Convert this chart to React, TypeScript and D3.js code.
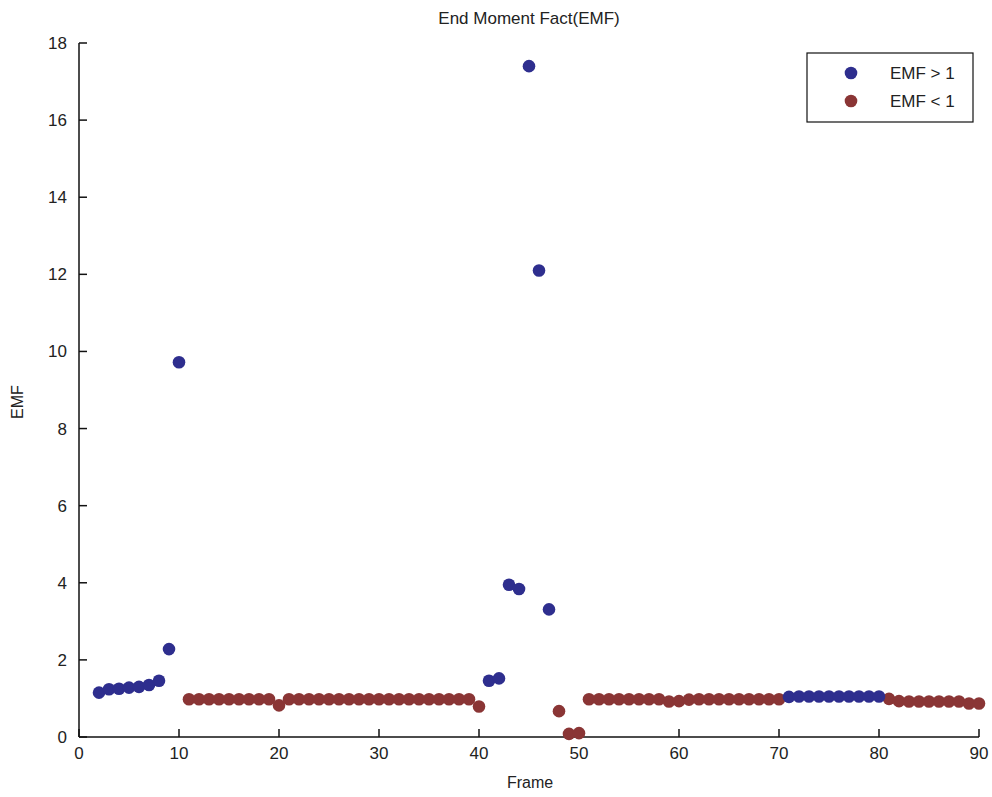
import React from "react";
import * as d3 from "d3";

const framesHigh = [2, 3, 4, 5, 6, 7, 8, 9, 10, 41, 42, 43, 44, 45, 46, 47, 71, 72, 73, 74, 75, 76, 77, 78, 79, 80];
const valuesHigh = [1.15, 1.24, 1.25, 1.28, 1.3, 1.35, 1.46, 2.28, 9.72, 1.46, 1.52, 3.95, 3.84, 17.4, 12.1, 3.31, 1.04, 1.05, 1.05, 1.05, 1.05, 1.05, 1.05, 1.05, 1.05, 1.05];

const framesLow = [11, 12, 13, 14, 15, 16, 17, 18, 19, 20, 21, 22, 23, 24, 25, 26, 27, 28, 29, 30, 31, 32, 33, 34, 35, 36, 37, 38, 39, 40, 48, 49, 50, 51, 52, 53, 54, 55, 56, 57, 58, 59, 60, 61, 62, 63, 64, 65, 66, 67, 68, 69, 70, 81, 82, 83, 84, 85, 86, 87, 88, 89, 90];
const valuesLow = [0.98, 0.98, 0.98, 0.98, 0.98, 0.98, 0.98, 0.98, 0.98, 0.82, 0.98, 0.98, 0.98, 0.98, 0.98, 0.98, 0.98, 0.98, 0.98, 0.98, 0.98, 0.98, 0.98, 0.98, 0.98, 0.98, 0.98, 0.98, 0.98, 0.79, 0.67, 0.08, 0.1, 0.98, 0.98, 0.98, 0.98, 0.98, 0.98, 0.98, 0.98, 0.92, 0.93, 0.97, 0.98, 0.98, 0.98, 0.98, 0.98, 0.98, 0.98, 0.98, 0.98, 0.99, 0.93, 0.92, 0.92, 0.92, 0.92, 0.92, 0.92, 0.87, 0.87];

const xTicks = [0, 10, 20, 30, 40, 50, 60, 70, 80, 90];
const yTicks = [0, 2, 4, 6, 8, 10, 12, 14, 16, 18];
const legendLabels = ["EMF > 1", "EMF < 1"];

const BLUE = "#2e2e8e";
const RED = "#8a3535";
const FONT = "Liberation Sans, Arial, sans-serif";

export default function App() {
  const x = d3.scaleLinear().domain([0, 90]).range([79, 979]);
  const y = d3.scaleLinear().domain([0, 18]).range([737, 43]);
  const r = 6.3;
  const highPts = framesHigh.map((f, i) => [f, valuesHigh[i]]);
  const lowPts = framesLow.map((f, i) => [f, valuesLow[i]]);
  return (
    <svg width={992} height={797} style={{ position: "absolute", left: 0, top: 0, background: "#fff" }}>
      <text x={529} y={24} textAnchor="middle" fontFamily={FONT} fontSize={17} fill="#222">End Moment Fact(EMF)</text>
      <line x1={x(0)} x2={x(90)} y1={y(0)} y2={y(0)} stroke="#111" strokeWidth={1.5} />
      <line x1={x(0)} x2={x(0)} y1={y(0)} y2={y(18)} stroke="#111" strokeWidth={1.5} />
      {xTicks.map((t) => (
        <g key={"x" + t}>
          <line x1={x(t)} x2={x(t)} y1={y(0)} y2={y(0) - 8} stroke="#111" strokeWidth={1.5} />
          <text x={x(t)} y={y(0) + 22} textAnchor="middle" fontFamily={FONT} fontSize={17} fill="#222">{t}</text>
        </g>
      ))}
      {yTicks.map((t) => (
        <g key={"y" + t}>
          <line x1={x(0)} x2={x(0) + 8} y1={y(t)} y2={y(t)} stroke="#111" strokeWidth={1.5} />
          <text x={x(0) - 12} y={y(t) + 6} textAnchor="end" fontFamily={FONT} fontSize={17} fill="#222">{t}</text>
        </g>
      ))}
      <text x={530} y={788} textAnchor="middle" fontFamily={FONT} fontSize={16} fill="#222">Frame</text>
      <text transform="translate(23,402) rotate(-90)" textAnchor="middle" fontFamily={FONT} fontSize={16} fill="#222">EMF</text>
      {lowPts.map((p, i) => (
        <circle key={"l" + i} cx={x(p[0])} cy={y(p[1])} r={r} fill={RED} />
      ))}
      {highPts.map((p, i) => (
        <circle key={"h" + i} cx={x(p[0])} cy={y(p[1])} r={r} fill={BLUE} />
      ))}
      <rect x={807} y={53} width={166} height={69} fill="#fff" stroke="#111" strokeWidth={1.2} />
      {legendLabels.map((l, i) => (
        <g key={l}>
          <circle cx={851} cy={73 + i * 28} r={r} fill={i === 0 ? BLUE : RED} />
          <text x={890} y={79 + i * 28} fontFamily={FONT} fontSize={17} fill="#222">{l}</text>
        </g>
      ))}
    </svg>
  );
}
